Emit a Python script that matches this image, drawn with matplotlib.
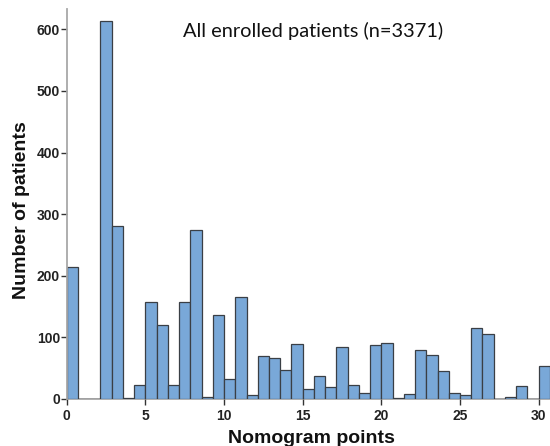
import numpy as np
import matplotlib
matplotlib.use("Agg")
import matplotlib.pyplot as plt

# Histogram of nomogram points, bin width 5/7 point
bin_width = 5 / 7
counts = [214, 0, 0, 614, 281, 2, 22, 158, 120, 22,
          158, 274, 3, 136, 32, 165, 7, 70, 66, 47,
          90, 17, 38, 20, 85, 22, 9, 88, 91, 2,
          8, 80, 72, 45, 10, 7, 115, 105, 0, 3,
          21, 0, 53]
bin_starts = np.arange(len(counts)) * bin_width

x_ticks = [0, 5, 10, 15, 20, 25, 30]
y_ticks = [0, 100, 200, 300, 400, 500, 600]

title = "All enrolled patients (n=3371)"
x_label = "Nomogram points"
y_label = "Number of patients"

fig = plt.figure(figsize=(5.5, 4.46), dpi=100)
ax = fig.add_axes([0.1213, 0.1054, 0.8787, 0.8744])

ax.bar(bin_starts, counts, width=bin_width, align="edge",
       color="#79a8d8", edgecolor="#3a3f45", linewidth=0.9, zorder=2)

ax.set_xlim(0, 30.72)
ax.set_ylim(0, 633)
ax.set_xticks(x_ticks)
ax.set_yticks(y_ticks)

for s in ["top", "right"]:
    ax.spines[s].set_visible(False)
for s in ["left", "bottom"]:
    ax.spines[s].set_color("#a8a8a8")
    ax.spines[s].set_linewidth(1.3)
ax.spines["bottom"].set_zorder(1)

ax.tick_params(axis="both", direction="out", length=4.4, width=1,
               color="#333333")
ax.tick_params(axis="x", pad=3)
ax.tick_params(axis="y", pad=0.5)
for lbl in ax.get_xticklabels() + ax.get_yticklabels():
    lbl.set_fontfamily("Liberation Sans")
    lbl.set_fontweight("bold")
    lbl.set_fontsize(10)
    lbl.set_color("#222222")

fig.text(0.5655, 0.0067, x_label, ha="center", va="baseline",
         fontfamily="Liberation Sans", fontweight="bold",
         fontsize=14, color="#111111")
fig.text(0.039, 0.529, y_label, ha="center", va="center", rotation=90,
         fontfamily="Liberation Sans", fontweight="bold",
         fontsize=14, color="#111111")

fig.text(0.569, 0.930, title, ha="center", va="center",
         fontfamily="Lato", fontsize=14.4, color="#111111")

fig.savefig("out.png", dpi=100)
